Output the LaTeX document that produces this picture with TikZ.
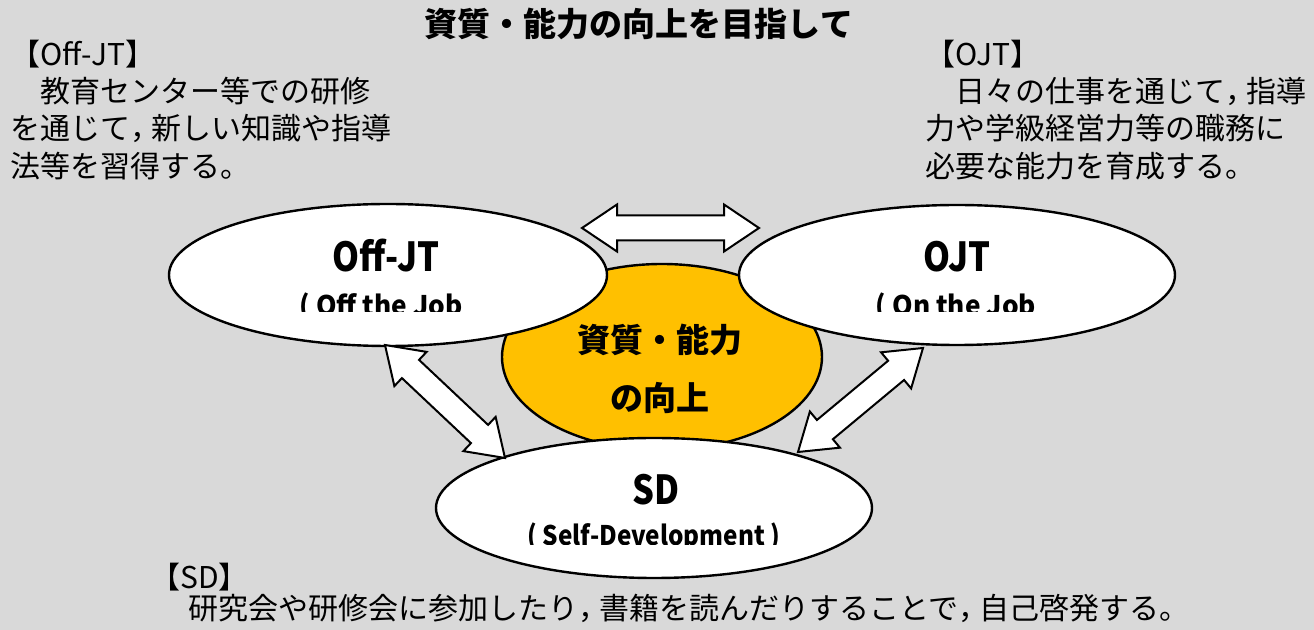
\documentclass[tikz,border=0pt]{standalone}
\usepackage{fontspec}
\setmainfont{Noto Sans CJK JP}
\usetikzlibrary{shapes.geometric,calc}
\definecolor{bgray}{HTML}{D9D9D9}
\definecolor{gold}{HTML}{FFC000}
\newcommand\hcomma{\makebox[0.7em][l]{，}}
\newcommand\narrowx[2]{\scalebox{#1}[1]{#2}}
\newcommand\dblarrow[3]{%
 \coordinate (#1m1) at ($(#2)!17.5pt!(#3)$);
 \coordinate (#1m2) at ($(#3)!17.5pt!(#2)$);
 \draw[blockarrow] (#2) -- ($(#1m1)!11.75pt!90:(#3)$) -- ($(#1m1)!6.25pt!90:(#3)$)
   -- ($(#1m2)!6.25pt!-90:(#2)$) -- ($(#1m2)!11.75pt!-90:(#2)$) -- (#3)
   -- ($(#1m2)!11.75pt!90:(#2)$) -- ($(#1m2)!6.25pt!90:(#2)$)
   -- ($(#1m1)!6.25pt!-90:(#3)$) -- ($(#1m1)!11.75pt!-90:(#3)$) -- cycle;
}
\begin{document}
\begin{tikzpicture}[x=0.5pt,y=-0.5pt,
  ell/.style={ellipse, draw=black, line width=1.2pt, fill=white, inner sep=0pt},
  blockarrow/.style={draw=black, fill=white, line width=1pt, line join=miter},
  body/.style={font=\fontsize{15pt}{18pt}\selectfont, inner sep=0pt, anchor=base west},
  lab/.style={font=\bfseries\fontsize{20pt}{24pt}\selectfont, inner sep=0pt, anchor=base},
  sublab/.style={font=\bfseries\fontsize{13.5pt}{16pt}\selectfont, inner sep=0pt, anchor=base},
  big/.style={font=\bfseries\fontsize{16.5pt}{20pt}\selectfont, inner sep=0pt, anchor=base}]
\fill[bgray] (0,0) rectangle (1314,630);
\useasboundingbox (0,0) rectangle (1314,630);

% title
\node[big] (title) at (639,37) {資質・能力の向上を目指して};

% ellipses
\node[ell, fill=gold, minimum width=160pt, minimum height=93pt] (core) at (662,357) {};
\node[ell, minimum width=219pt, minimum height=71pt] (offjt) at (388,275) {};
\node[ell, minimum width=218pt, minimum height=70pt] (ojt) at (957,275) {};
\node[ell, minimum width=218pt, minimum height=70pt] (sd) at (654,508) {};

% arrow end points
\coordinate (ta) at (582,228);
\coordinate (tb) at (759,228);
\coordinate (la) at (385,345);
\coordinate (lb) at (505,458);
\coordinate (ra) at (923,348);
\coordinate (rb) at (798,452);
\dblarrow{top}{ta}{tb}
\dblarrow{lft}{la}{lb}
\dblarrow{rgt}{ra}{rb}

% ellipse labels
\node[lab] (offjtl) at (386,272) {\narrowx{0.86}{Off-JT}};
\node[lab] (ojtl) at (957,272) {\narrowx{0.86}{OJT}};
\node[lab] (sdl) at (656,505) {\narrowx{0.86}{SD}};
\begin{scope}
\clip (200,280) rectangle (1100,312);
\node[sublab] (offjts) at (381,316) {\narrowx{0.97}{( Off the Job}};
\node[sublab] (ojts) at (956,316) {\narrowx{0.97}{( On the Job}};
\end{scope}
\begin{scope}
\clip (450,515) rectangle (860,545);
\node[sublab] (sds) at (654,546) {\narrowx{0.9}{( Self-Development )}};
\end{scope}

% core text
\node[big] (core1) at (660,353) {資質・能力};
\node[big] (core2) at (660,411) {の向上};

% left block
\node[body] (offh) at (10,66) {【Off-JT】};
\node[body] (off1) at (10,103) {　教育センター等での研修};
\node[body] (off2) at (10,140) {を通じて\hcomma 新しい知識や指導};
\node[body] (off3) at (10,178) {法等を習得する。};

% right block
\node[body] (ojth) at (925,66) {【OJT】};
\node[body] (ojt1) at (925,103) {　日々の仕事を通じて\hcomma 指導};
\node[body] (ojt2) at (925,140) {力や学級経営力等の職務に};
\node[body] (ojt3) at (925,178) {必要な能力を育成する。};

% bottom block
\node[body] (sdh) at (150,589) {【SD】};
\node[body] (sd1) at (158,620) {　研究会や研修会に参加したり\hcomma 書籍を読んだりすることで\hcomma 自己啓発する。};
\end{tikzpicture}
\end{document}
